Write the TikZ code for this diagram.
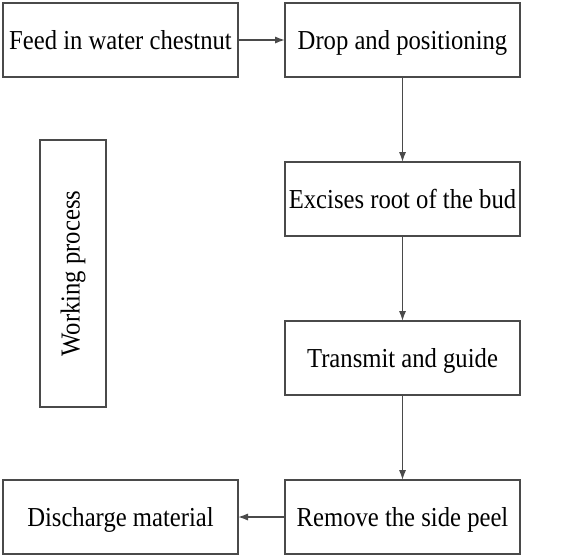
\documentclass[tikz,border=0pt]{standalone}
\usepackage{fontspec}
\setmainfont[FakeStretch=0.9]{Liberation Serif}
\usetikzlibrary{positioning,arrows.meta}

\definecolor{linegray}{HTML}{4A4A4A}

\tikzset{
  every step/.style={draw=linegray, line width=0.75pt, minimum width=117.5pt,
    minimum height=37pt, inner sep=0pt, outer sep=0pt,
    text height=9pt, text depth=0pt,
    font=\fontsize{13.7}{16}\selectfont},
  flow/.style={->, draw=linegray, line width=0.75pt}
}

\begin{document}
\begin{tikzpicture}[>={Latex[length=5pt,width=3.6pt]}, node distance=42.5pt and 23.5pt]

\useasboundingbox (0,0) rectangle (294pt,-279.5pt);

% steps
\node [every step] (feed) at (60.25pt,-20pt) {Feed in water chestnut};
\node [every step, right=of feed] (drop) {Drop and positioning};
\node [every step, below=of drop] (excise) {Excises root of the bud};
\node [every step, below=of excise] (guide) {Transmit and guide};
\node [every step, below=of guide] (peel) {Remove the side peel};
\node [every step, left=of peel] (discharge) {Discharge material};

% label
\node [every step, text height=, text depth=, minimum width=33pt, minimum height=133.5pt] (work) at (36.5pt,-136.75pt) {};
\node [rotate=90, font=\fontsize{13.7}{16}\selectfont] (worklabel) at (work.center) {Working process};

% connections
\draw [flow] (feed) -- (drop);
\draw [flow] (drop) -- (excise);
\draw [flow] (excise) -- (guide);
\draw [flow] (guide) -- (peel);
\draw [flow] (peel) -- (discharge);

\end{tikzpicture}
\end{document}
